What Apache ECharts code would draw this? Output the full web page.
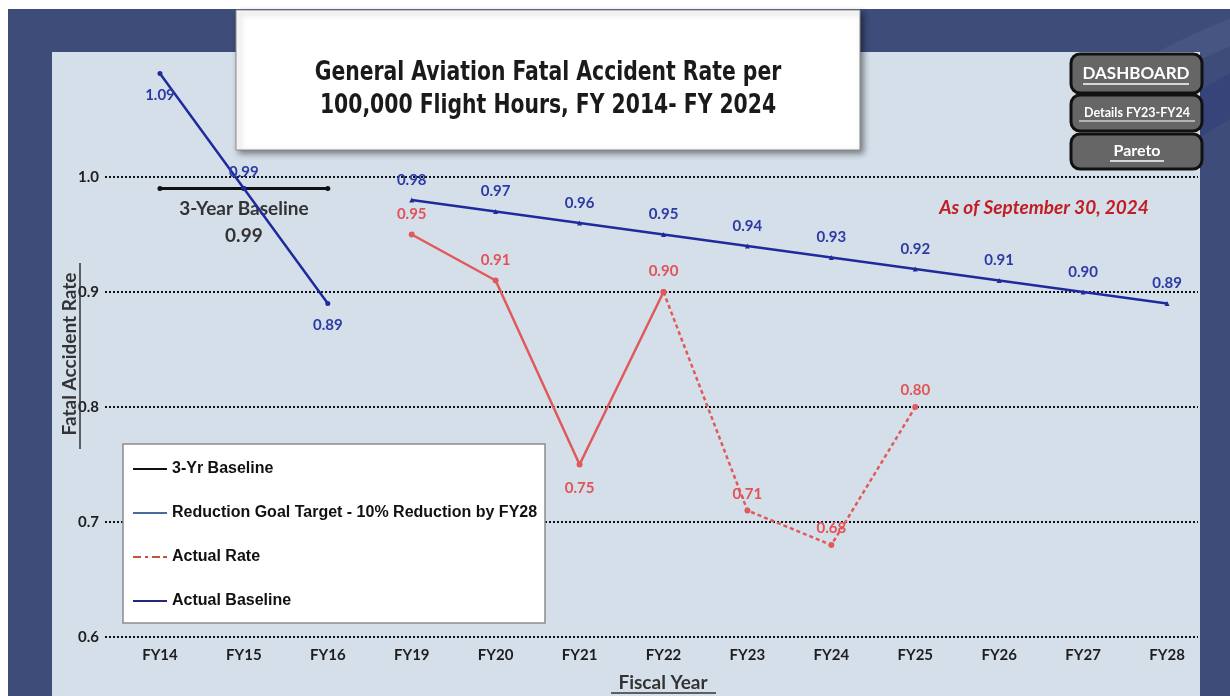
<!DOCTYPE html>
<html>
<head>
<meta charset="utf-8">
<script src="https://cdn.jsdelivr.net/npm/echarts@6/dist/echarts.min.js"></script>
<style>
  html, body { margin: 0; padding: 0; background: #fff; }
  #main { width: 1230px; height: 696px; }
</style>
</head>
<body>
<div id="main"></div>
<script>
// 数据
var years = ['FY14', 'FY15', 'FY16', 'FY19', 'FY20', 'FY21', 'FY22', 'FY23', 'FY24', 'FY25', 'FY26', 'FY27', 'FY28'];
var threeYrBaseline = [0.99, 0.99, 0.99, null, null, null, null, null, null, null, null, null, null];
var actualBaseline = [1.09, 0.99, 0.89, null, null, null, null, null, null, null, null, null, null];
var goalTarget = [null, null, null, 0.98, 0.97, 0.96, 0.95, 0.94, 0.93, 0.92, 0.91, 0.90, 0.89];
var actualRate = [null, null, null, 0.95, 0.91, 0.75, 0.90, null, null, null, null, null, null];
var actualRateLatest = [null, null, null, null, null, null, 0.90, 0.71, 0.68, 0.80, null, null, null];
var yTicks = [0.6, 0.7, 0.8, 0.9, 1.0];

// 标签放在点下方的索引
var baselineBelow = [0, 2];
var rateBelow = [5];

var labelFont = 'Lato, "Open Sans", sans-serif';
var navy = '#1f2b9c';
var red = '#e05a5c';

var myChart = echarts.init(document.getElementById('main'));

myChart.setOption({
    animation: false,
    textStyle: { fontFamily: labelFont },
    grid: [
        { left: 118, right: 21, top: 62, bottom: 59 },
        { left: 105, right: 32, top: 177, bottom: 59 }
    ],
    xAxis: [
        {
            type: 'category', data: years, gridIndex: 0, boundaryGap: true,
            axisLine: { show: false }, axisTick: { show: false },
            axisLabel: { color: '#1e1e1e', fontWeight: 'bold', fontSize: 15, margin: 11, fontFamily: labelFont }
        },
        { type: 'value', gridIndex: 1, min: 0, max: 1, show: false }
    ],
    yAxis: [
        { type: 'value', gridIndex: 0, min: 0.6, max: 1.1, show: false },
        {
            type: 'value', gridIndex: 1, min: yTicks[0], max: yTicks[yTicks.length - 1], interval: 0.1,
            axisLine: { show: false }, axisTick: { show: false },
            axisLabel: {
                color: '#1e1e1e', fontWeight: 'bold', fontSize: 15, margin: 6, fontFamily: labelFont,
                formatter: function (v) { return v.toFixed(1); }
            },
            splitLine: { show: true, lineStyle: { color: '#111', width: 2, type: [2, 2] } }
        }
    ],
    legend: {
        orient: 'vertical', left: 128, top: 456, itemGap: 28, itemWidth: 34, itemHeight: 14, z: 6,
        icon: 'path://M0,6 L34,6 L34,8 L0,8 Z',
        textStyle: { fontFamily: '"Liberation Sans", Arial, sans-serif', fontWeight: 'bold', fontSize: 16, color: '#111', lineHeight: 14 },
        data: [
            { name: '3-Yr Baseline', itemStyle: { color: '#111' } },
            { name: 'Reduction Goal Target - 10% Reduction by FY28', itemStyle: { color: '#4a6a9c' } },
            { name: 'Actual Rate', icon: 'path://M0,6 L8,6 L8,8 L0,8 Z M12,6 L15,6 L15,8 L12,8 Z M19,6 L27,6 L27,8 L19,8 Z M30,6 L34,6 L34,8 L30,8 Z', itemStyle: { color: '#c4533e' } },
            { name: 'Actual Baseline', itemStyle: { color: '#23287a' } }
        ]
    },
    series: [
        {
            name: '3-Yr Baseline', type: 'line', data: threeYrBaseline,
            symbol: 'circle', symbolSize: 5, itemStyle: { color: '#111' }, lineStyle: { color: '#111', width: 3 },
            label: {
                show: true, position: 'bottom', distance: 4, color: '#333', fontSize: 19, fontWeight: 'bold',
                lineHeight: 27, fontFamily: labelFont,
                formatter: function (p) { return p.dataIndex === 1 ? '3-Year Baseline\n' + p.value.toFixed(2) : ''; }
            },
            z: 3
        },
        {
            name: 'Actual Baseline', type: 'line', data: actualBaseline,
            symbol: 'circle', symbolSize: 5, itemStyle: { color: navy }, lineStyle: { color: navy, width: 2.5 },
            label: {
                show: true, position: 'top', distance: 6, color: '#2c3aa5', fontSize: 15, fontWeight: 'bold', fontFamily: labelFont,
                formatter: function (p) { return p.value.toFixed(2); }
            },
            labelLayout: function (p) {
                return baselineBelow.indexOf(p.dataIndex) >= 0 ? { dy: 38 } : {};
            },
            z: 4
        },
        {
            name: 'Reduction Goal Target - 10% Reduction by FY28', type: 'line', data: goalTarget,
            symbol: 'triangle', symbolSize: 5, itemStyle: { color: navy }, lineStyle: { color: navy, width: 2.5 },
            label: {
                show: true, position: 'top', distance: 10, color: '#2c3aa5', fontSize: 15, fontWeight: 'bold', fontFamily: labelFont,
                formatter: function (p) { return p.value.toFixed(2); }
            }
        },
        {
            name: 'Actual Rate', type: 'line', data: actualRate,
            symbol: 'circle', symbolSize: 6, itemStyle: { color: red }, lineStyle: { color: red, width: 2.5 },
            label: {
                show: true, position: 'top', distance: 10, color: '#e05357', fontSize: 15, fontWeight: 'bold', fontFamily: labelFont,
                formatter: function (p) { return p.value.toFixed(2); }
            },
            labelLayout: function (p) {
                return rateBelow.indexOf(p.dataIndex) >= 0 ? { dy: 44 } : {};
            }
        },
        {
            name: 'Actual Rate', type: 'line', data: actualRateLatest,
            symbol: 'circle', symbolSize: 6, itemStyle: { color: red }, lineStyle: { color: red, width: 2.5, type: [4, 3] },
            label: {
                show: true, position: 'top', distance: 6, color: '#e05357', fontSize: 15, fontWeight: 'bold', fontFamily: labelFont,
                formatter: function (p) { return p.dataIndex === 6 ? '' : p.value.toFixed(2); }
            }
        }
    ],
    graphic: [
        // 背景
        { type: 'rect', z: -20, shape: { x: 8, y: 9, width: 1222, height: 687 }, style: { fill: '#3d4c79' }, silent: true },
        { type: 'circle', z: -19, shape: { cx: 1500, cy: 700, r: 720 }, style: { fill: 'none', stroke: '#4d5c88', lineWidth: 26, opacity: 0.6 }, silent: true },
        { type: 'circle', z: -19, shape: { cx: 1600, cy: 760, r: 760 }, style: { fill: 'none', stroke: '#34427a', lineWidth: 40, opacity: 0.7 }, silent: true },
        { type: 'rect', z: -18, shape: { x: 52, y: 52, width: 1148, height: 644 }, style: { fill: '#d5dfe9' }, silent: true },
        // 标题框
        {
            type: 'rect', z: 20, shape: { x: 236, y: 10, width: 624, height: 140 },
            style: { fill: '#fff', stroke: '#8a8a8a', lineWidth: 1, shadowBlur: 6, shadowOffsetX: 3, shadowOffsetY: 3, shadowColor: 'rgba(0,0,0,0.45)' }
        },
        {
            type: 'text', z: 21, x: 548, y: 90, scaleX: 0.87,
            style: {
                text: 'General Aviation Fatal Accident Rate per\n100,000 Flight Hours, FY 2014- FY 2024',
                fill: '#1a1a1a', font: 'bold 26px "Liberation Sans Narrow", "DejaVu Sans Condensed", sans-serif',
                align: 'center', verticalAlign: 'middle', lineHeight: 33
            }
        },
        // 按钮
        { type: 'rect', z: 20, shape: { x: 1071, y: 54, width: 131, height: 39, r: 9 }, style: { fill: '#666', stroke: '#111', lineWidth: 3 } },
        { type: 'text', z: 21, x: 1136, y: 74, style: { text: 'DASHBOARD', fill: '#fff', font: 'bold 17px Lato, sans-serif', align: 'center', verticalAlign: 'middle' } },
        { type: 'line', z: 21, shape: { x1: 1083, y1: 84, x2: 1189, y2: 84 }, style: { stroke: '#fff', lineWidth: 1.5 } },
        { type: 'rect', z: 20, shape: { x: 1071, y: 95, width: 131, height: 36, r: 9 }, style: { fill: '#666', stroke: '#111', lineWidth: 3 } },
        { type: 'text', z: 21, x: 1137, y: 113, style: { text: 'Details FY23-FY24', fill: '#fff', font: 'bold 12.5px Lato, sans-serif', align: 'center', verticalAlign: 'middle' } },
        { type: 'line', z: 21, shape: { x1: 1079, y1: 121, x2: 1195, y2: 121 }, style: { stroke: '#fff', lineWidth: 1.2 } },
        { type: 'rect', z: 20, shape: { x: 1071, y: 134, width: 131, height: 35, r: 9 }, style: { fill: '#666', stroke: '#111', lineWidth: 3 } },
        { type: 'text', z: 21, x: 1137, y: 151, style: { text: 'Pareto', fill: '#fff', font: 'bold 16px Lato, sans-serif', align: 'center', verticalAlign: 'middle' } },
        { type: 'line', z: 21, shape: { x1: 1110, y1: 161, x2: 1164, y2: 161 }, style: { stroke: '#fff', lineWidth: 1.5 } },
        // 日期
        { type: 'text', z: 10, x: 1044, y: 208, style: { text: 'As of September 30, 2024', fill: '#c21d24', font: 'italic bold 19px Lato, sans-serif', align: 'center', verticalAlign: 'middle' } },
        // 图例框
        { type: 'rect', z: 5, shape: { x: 123, y: 444, width: 422, height: 179 }, style: { fill: '#fff', stroke: '#8c8c8c', lineWidth: 1.5 } },
        // 轴名称
        { type: 'text', z: 10, x: 663, y: 683, style: { text: 'Fiscal Year', fill: '#333', font: 'bold 19px Lato, sans-serif', align: 'center', verticalAlign: 'middle' } },
        { type: 'line', z: 10, shape: { x1: 611, y1: 693, x2: 716, y2: 693 }, style: { stroke: '#333', lineWidth: 1.5 } },
        {
            type: 'text', z: 10, x: 70, y: 354, rotation: Math.PI / 2,
            style: { text: 'Fatal Accident Rate', fill: '#333', font: 'bold 19px Lato, sans-serif', align: 'center', verticalAlign: 'middle' }
        },
        { type: 'line', z: 10, shape: { x1: 80, y1: 263, x2: 80, y2: 449 }, style: { stroke: '#333', lineWidth: 1.5 } }
    ]
});
</script>
</body>
</html>
